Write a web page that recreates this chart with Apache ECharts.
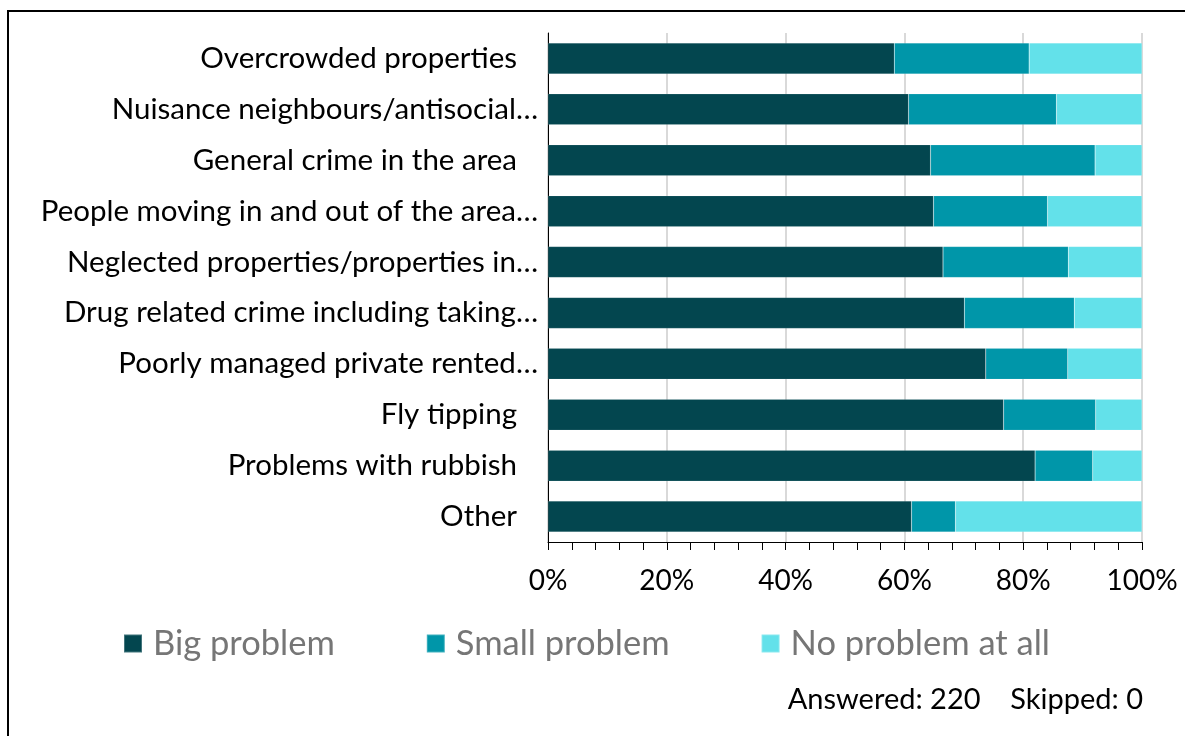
<!DOCTYPE html>
<html>
<head>
<meta charset="utf-8">
<script src="https://cdn.jsdelivr.net/npm/echarts@6/dist/echarts.min.js"></script>
<style>
  html, body { margin: 0; padding: 0; background: #fff; }
  #chart { width: 1185px; height: 736px; }
</style>
</head>
<body>
<div id="chart"></div>
<script>
// Survey: how much of a problem each issue is in the area (share of respondents)
const categories = [
  'Overcrowded properties ',
  'Nuisance neighbours/antisocial…',
  'General crime in the area ',
  'People moving in and out of the area…',
  'Neglected properties/properties in…',
  'Drug related crime including taking…',
  'Poorly managed private rented…',
  'Fly tipping ',
  'Problems with rubbish ',
  'Other '
];
const seriesNames = ['Big problem', 'Small problem', 'No problem at all'];
const bigProblem   = [58.3, 60.7, 64.4, 64.9, 66.5, 70.1, 73.7, 76.7, 82.0, 61.2];
const smallProblem = [22.7, 24.9, 27.7, 19.2, 21.1, 18.5, 13.8, 15.5, 9.7, 7.4];
const noProblem    = [19.0, 14.4, 7.9, 15.9, 12.4, 11.4, 12.5, 7.8, 8.3, 31.4];
const xTicks = [0, 20, 40, 60, 80, 100];
const footnote = 'Answered: 220    Skipped: 0';

const colors = ['#03464f', '#0096a9', '#63e1ea'];
const FONT = 'Lato';

const chart = echarts.init(document.getElementById('chart'));

const values = [bigProblem, smallProblem, noProblem];
const series = seriesNames.map((name, i) => ({
  name: name,
  type: 'bar',
  stack: 'total',
  barWidth: '61%',
  data: values[i],
  itemStyle: { color: colors[i], borderColor: 'rgba(255,255,255,0.25)', borderWidth: 0.5 },
  emphasis: { disabled: true }
}));

chart.setOption({
  animation: false,
  textStyle: { fontFamily: FONT },
  grid: { left: 548, right: 43, top: 33, height: 509, containLabel: false },
  xAxis: {
    type: 'value',
    min: 0,
    max: 100,
    interval: 20,
    axisLine: { show: true, lineStyle: { color: '#000', width: 1 } },
    axisTick: { show: true, length: 8, lineStyle: { color: '#000' } },
    minorTick: { show: true, splitNumber: 5, length: 8, lineStyle: { color: '#000' } },
    splitLine: { show: true, lineStyle: { color: '#d9d9d9', width: 2 } },
    axisLabel: {
      margin: 25,
      color: '#000',
      fontSize: 28,
      fontFamily: FONT,
      formatter: v => (xTicks.indexOf(v) >= 0 ? v + '%' : '')
    }
  },
  yAxis: {
    type: 'category',
    inverse: true,
    data: categories,
    axisLine: { show: true, lineStyle: { color: '#000', width: 1 } },
    axisTick: { show: false },
    axisLabel: {
      margin: 10,
      color: '#000',
      fontSize: 29.5,
      fontFamily: FONT,
      formatter: v => (v.endsWith(' ') ? '{sp|' + v.trim() + '}' : v),
      rich: { sp: { fontSize: 29.5, fontFamily: FONT, color: '#000', padding: [0, 21, 0, 0] } }
    }
  },
  legend: {
    data: seriesNames,
    left: 118,
    top: 621,
    itemWidth: 18,
    itemHeight: 18,
    itemGap: 91,
    icon: 'rect',
    textStyle: { fontSize: 34.5, color: '#767676', fontFamily: FONT, padding: [0, 0, 0, 6] }
  },
  graphic: [
    {
      type: 'rect',
      silent: true,
      shape: { x: 8, y: 11, width: 1300, height: 900 },
      style: { fill: 'none', stroke: '#000', lineWidth: 2 }
    },
    {
      type: 'text',
      silent: true,
      right: 42,
      top: 685,
      style: { text: footnote, fontSize: 29, fontFamily: FONT, fill: '#000' }
    }
  ],
  series: series
});
</script>
</body>
</html>
